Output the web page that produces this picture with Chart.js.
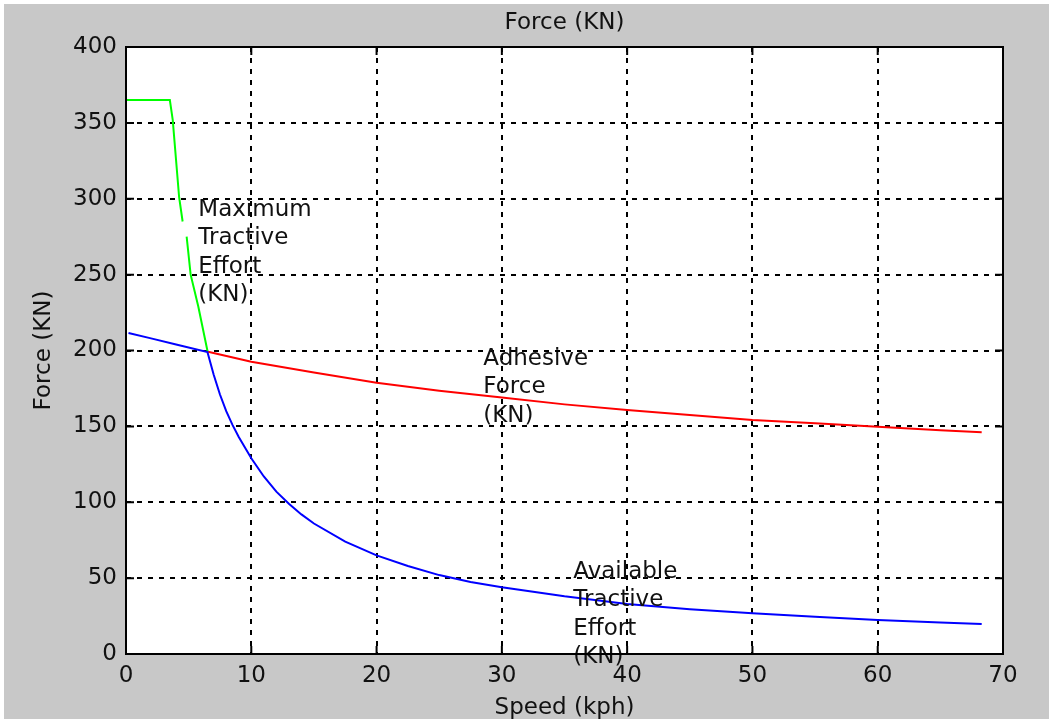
<!DOCTYPE html>
<html lang="en">
<head>
<meta charset="UTF-8" />
<title>Force (KN)</title>
<script src="https://cdn.jsdelivr.net/npm/chart.js@4.4.0/dist/chart.umd.min.js"></script>
<style>
  html, body { margin: 0; padding: 0; background: #fff; }
  #wrap { width: 1049px; height: 719px; }
</style>
</head>
<body>
<div id="wrap"><canvas id="forceChart" width="1049" height="719"></canvas></div>
<script>
  // Maximum tractive effort (motor limit), kph / KN; null leaves the small break in the trace
  const maxTeSpeed = [0, 3.5, 3.73, 4.24, 4.52, 4.68, 4.84, 5.16, 5.77, 6.52];
  const maxTeForce = [365, 365, 352, 301, 285, null, 275, 250, 229, 199];

  // Adhesive force (wheel/rail limit)
  const adhSpeed = [6.55, 10, 15, 20, 25, 30, 35, 40, 45, 50, 55, 60, 65, 68.3];
  const adhForce = [199.2, 192.6, 185.5, 178.8, 173.5, 169, 164.5, 160.8, 157.5, 154.2, 152, 149.8, 147.5, 146.1];

  // Available tractive effort = lower of the two limits
  const availSpeed = [0.2, 2, 4, 6.5, 7, 7.5, 8, 8.5, 9, 10, 11, 12, 13, 14, 15, 17.5, 20, 22.5, 25, 27.5, 30, 35, 40, 45, 50, 55, 60, 65, 68.3];
  const availForce = [211.5, 208, 204, 199, 184, 171, 160, 151, 143, 129, 117, 107, 99, 92, 86, 74, 65, 58, 52, 47.5, 44, 38, 33, 29.5, 26.8, 24.5, 22.4, 20.8, 19.8];

  // In-plot text labels, anchored at (speed, force) of the first line's left/middle
  const noteText = [
    ['Maximum', 'Tractive', 'Effort', '(KN)'],
    ['Adhesive', 'Force', '(KN)'],
    ['Available', 'Tractive', 'Effort', '(KN)']
  ];
  const noteSpeed = [5.77, 28.52, 35.7];
  const noteForce = [292.6, 194.4, 54.2];

  const xTicks = [0, 10, 20, 30, 40, 50, 60, 70];
  const yTicks = [0, 50, 100, 150, 200, 250, 300, 350, 400];

  const FONT = { family: '"DejaVu Sans", sans-serif', size: 23 };

  const toPoints = (xs, ys) => xs.map((x, i) => ({ x: x, y: ys[i] }));

  const figurePlugin = {
    id: 'figure',
    beforeDraw(chart) {
      const { ctx, chartArea: a, width, height } = chart;
      ctx.save();
      ctx.fillStyle = '#ffffff';
      ctx.fillRect(0, 0, width, height);
      ctx.fillStyle = '#c8c8c8';
      ctx.fillRect(4, 4, width - 4, height - 4);
      ctx.fillStyle = '#ffffff';
      ctx.fillRect(a.left, a.top, a.right - a.left, a.bottom - a.top);
      ctx.restore();
    },
    afterDatasetsDraw(chart) {
      const { ctx } = chart;
      const xs = chart.scales.x, ys = chart.scales.y;
      ctx.save();
      ctx.font = FONT.size + 'px ' + FONT.family;
      ctx.fillStyle = '#111111';
      ctx.textAlign = 'left';
      ctx.textBaseline = 'middle';
      noteText.forEach((lines, i) => {
        const px = xs.getPixelForValue(noteSpeed[i]);
        const py = ys.getPixelForValue(noteForce[i]);
        lines.forEach((t, j) => ctx.fillText(t, px, py + j * 28.5));
      });
      ctx.restore();
    },
    afterDraw(chart) {
      const { ctx, chartArea: a } = chart;
      const xs = chart.scales.x, ys = chart.scales.y;
      ctx.save();
      ctx.strokeStyle = '#000000';
      ctx.lineWidth = 2;
      ctx.beginPath();
      // short inward tick marks on all four sides
      xTicks.forEach(v => {
        const p = xs.getPixelForValue(v);
        ctx.moveTo(p, a.bottom); ctx.lineTo(p, a.bottom - 8);
        ctx.moveTo(p, a.top); ctx.lineTo(p, a.top + 8);
      });
      yTicks.forEach(v => {
        const p = ys.getPixelForValue(v);
        ctx.moveTo(a.left, p); ctx.lineTo(a.left + 8, p);
        ctx.moveTo(a.right, p); ctx.lineTo(a.right - 8, p);
      });
      ctx.stroke();
      ctx.strokeRect(a.left, a.top, a.right - a.left, a.bottom - a.top);
      ctx.restore();
    }
  };

  const ctx = document.getElementById('forceChart').getContext('2d');
  const chart = new Chart(ctx, {
    type: 'scatter',
    data: {
      datasets: [
        {
          label: 'Available Tractive Effort (KN)',
          data: toPoints(availSpeed, availForce),
          showLine: true,
          borderColor: '#0000ff',
          borderWidth: 2,
          pointRadius: 0,
          tension: 0
        },
        {
          label: 'Adhesive Force (KN)',
          data: toPoints(adhSpeed, adhForce),
          showLine: true,
          borderColor: '#ff0000',
          borderWidth: 2,
          pointRadius: 0,
          tension: 0
        },
        {
          label: 'Maximum Tractive Effort (KN)',
          data: toPoints(maxTeSpeed, maxTeForce),
          showLine: true,
          spanGaps: false,
          borderColor: '#00ff00',
          borderWidth: 2,
          pointRadius: 0,
          tension: 0
        }
      ]
    },
    options: {
      responsive: false,
      animation: false,
      devicePixelRatio: 1,
      layout: { padding: { left: 0, right: 46, top: 0, bottom: 0 } },
      plugins: {
        legend: { display: false },
        tooltip: { enabled: false },
        title: {
          display: true,
          text: 'Force (KN)',
          fullSize: false,
          color: '#111111',
          font: { family: FONT.family, size: FONT.size, weight: 'normal' },
          padding: { top: 9, bottom: 10.4 }
        }
      },
      scales: {
        x: {
          type: 'linear',
          min: 0,
          max: 70,
          afterFit: s => { s.height = 65; },
          afterBuildTicks: s => { s.ticks = xTicks.map(v => ({ value: v })); },
          ticks: { color: '#111111', font: FONT, padding: 8, maxRotation: 0 },
          grid: { color: '#000000', lineWidth: 2, drawTicks: false },
          border: { display: false, dash: [5, 6] },
          title: {
            display: true,
            text: 'Speed (kph)',
            color: '#111111',
            font: FONT,
            padding: { top: 0, bottom: -3 }
          }
        },
        y: {
          type: 'linear',
          min: 0,
          max: 400,
          afterFit: s => { s.width = 126; },
          afterBuildTicks: s => { s.ticks = yTicks.map(v => ({ value: v })); },
          ticks: { color: '#111111', font: FONT, padding: 9 },
          grid: { color: '#000000', lineWidth: 2, drawTicks: false },
          border: { display: false, dash: [5, 6] },
          title: {
            display: true,
            text: 'Force (KN)',
            color: '#111111',
            font: FONT,
            padding: { top: 30, bottom: 0 }
          }
        }
      }
    },
    plugins: [figurePlugin]
  });
</script>
</body>
</html>
